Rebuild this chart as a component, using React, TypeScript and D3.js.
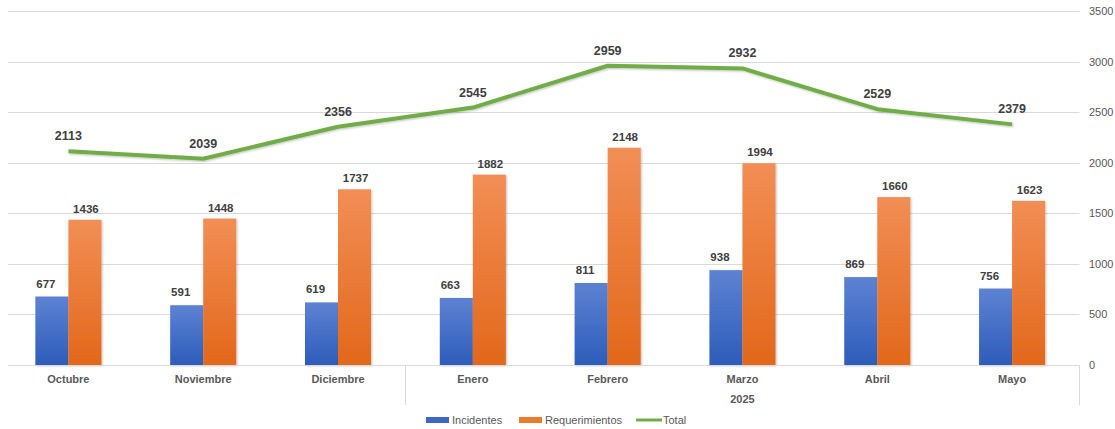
import * as d3 from "d3";
import React, { useEffect, useRef } from "react";

const months = ["Octubre", "Noviembre", "Diciembre", "Enero", "Febrero", "Marzo", "Abril", "Mayo"];
const incidentes = [677, 591, 619, 663, 811, 938, 869, 756];
const requerimientos = [1436, 1448, 1737, 1882, 2148, 1994, 1660, 1623];
const total = [2113, 2039, 2356, 2545, 2959, 2932, 2529, 2379];
const yTicks = [0, 500, 1000, 1500, 2000, 2500, 3000, 3500];
const yearLabel = "2025";
const yearStart = 3; // index of "Enero"

const W = 1115;
const H = 429;

const App = () => {
  const ref = useRef<SVGSVGElement>(null);

  useEffect(() => {
    document.body.style.margin = "0";
    const svg = d3.select(ref.current);
    svg.selectAll("*").remove();

    const left = 1;
    const right = 1079.5;
    const top = 11;
    const bottom = 365;
    const font = "'Liberation Sans', Arial, sans-serif";

    const x = d3
      .scaleBand()
      .domain(months)
      .range([left, right])
      .paddingInner(0.51)
      .paddingOuter(0.255);
    const step = x.step();
    const xs = d3
      .scaleBand()
      .domain(["inc", "req"])
      .range([0, x.bandwidth()]);
    const y = d3.scaleLinear().domain([0, 3500]).range([bottom, top]);

    const defs = svg.append("defs");
    const grad = (id, c1, c2) => {
      const g = defs
        .append("linearGradient")
        .attr("id", id)
        .attr("x1", 0)
        .attr("y1", 0)
        .attr("x2", 0)
        .attr("y2", 1);
      g.append("stop").attr("offset", "0%").attr("stop-color", c1);
      g.append("stop").attr("offset", "100%").attr("stop-color", c2);
    };
    grad("gBlue", "#5d82d2", "#2d5cba");
    grad("gOrange", "#f28e55", "#e2681b");
    const f = defs
      .append("filter")
      .attr("id", "shadow")
      .attr("x", "-20%")
      .attr("y", "-20%")
      .attr("width", "140%")
      .attr("height", "140%");
    f.append("feDropShadow")
      .attr("dx", 1)
      .attr("dy", 1)
      .attr("stdDeviation", 1)
      .attr("flood-color", "#000")
      .attr("flood-opacity", 0.25);

    // gridlines
    svg
      .append("g")
      .selectAll("line")
      .data(yTicks.filter((d) => d > 0))
      .join("line")
      .attr("x1", 8)
      .attr("x2", right)
      .attr("y1", (d) => Math.round(y(d)) + 0.5)
      .attr("y2", (d) => Math.round(y(d)) + 0.5)
      .attr("stroke", "#d9d9d9")
      .attr("stroke-width", 1);

    // right axis labels
    svg
      .append("g")
      .selectAll("text")
      .data(yTicks)
      .join("text")
      .attr("x", 1089)
      .attr("y", (d) => y(d) + 4)
      .attr("font-family", font)
      .attr("font-size", 11)
      .attr("fill", "#595959")
      .text((d) => d);

    // bars
    const groups = svg
      .append("g")
      .selectAll("g")
      .data(months.map((m, i) => ({ m, inc: incidentes[i], req: requerimientos[i] })))
      .join("g")
      .attr("transform", (d) => `translate(${x(d.m)},0)`);

    groups
      .append("rect")
      .attr("x", xs("inc"))
      .attr("width", xs.bandwidth())
      .attr("y", (d) => y(d.inc))
      .attr("height", (d) => bottom - y(d.inc))
      .attr("fill", "url(#gBlue)")
      .attr("filter", "url(#shadow)");
    groups
      .append("rect")
      .attr("x", xs("req"))
      .attr("width", xs.bandwidth())
      .attr("y", (d) => y(d.req))
      .attr("height", (d) => bottom - y(d.req))
      .attr("fill", "url(#gOrange)")
      .attr("filter", "url(#shadow)");

    groups
      .append("text")
      .attr("x", xs("inc") + xs.bandwidth() / 2 - 6)
      .attr("y", (d) => y(d.inc) - 9)
      .attr("text-anchor", "middle")
      .attr("font-family", font)
      .attr("font-size", 11.5)
      .attr("font-weight", "bold")
      .attr("fill", "#404040")
      .text((d) => d.inc);
    groups
      .append("text")
      .attr("x", xs("req") + xs.bandwidth() / 2 + 1)
      .attr("y", (d) => y(d.req) - 7)
      .attr("text-anchor", "middle")
      .attr("font-family", font)
      .attr("font-size", 11.5)
      .attr("font-weight", "bold")
      .attr("fill", "#404040")
      .text((d) => d.req);

    // axis line
    svg
      .append("line")
      .attr("x1", 8)
      .attr("x2", right)
      .attr("y1", bottom + 0.5)
      .attr("y2", bottom + 0.5)
      .attr("stroke", "#d9d9d9");
    const sepX = Math.round(left + step * yearStart) + 0.5;
    [sepX, Math.round(right) - 0.5].forEach((sx) => {
      svg
        .append("line")
        .attr("x1", sx)
        .attr("x2", sx)
        .attr("y1", bottom)
        .attr("y2", 405)
        .attr("stroke", "#d9d9d9");
    });

    svg
      .append("g")
      .selectAll("text")
      .data(months)
      .join("text")
      .attr("x", (d) => x(d) + x.bandwidth() / 2)
      .attr("y", 383)
      .attr("text-anchor", "middle")
      .attr("font-family", font)
      .attr("font-size", 11)
      .attr("font-weight", "bold")
      .attr("fill", "#595959")
      .text((d) => d);

    svg
      .append("text")
      .attr("x", (sepX + right) / 2)
      .attr("y", 403)
      .attr("text-anchor", "middle")
      .attr("font-family", font)
      .attr("font-size", 11)
      .attr("font-weight", "bold")
      .attr("fill", "#595959")
      .text(yearLabel);

    // total line
    const cx = (i) => x(months[i]) + x.bandwidth() / 2;
    const line = d3
      .line<number>()
      .x((_, i) => cx(i))
      .y((d) => y(d));
    svg
      .append("path")
      .datum(total)
      .attr("d", line)
      .attr("fill", "none")
      .attr("stroke", "#70ad47")
      .attr("stroke-width", 4)
      .attr("stroke-linejoin", "round")
      .attr("filter", "url(#shadow)");

    svg
      .append("g")
      .selectAll("text")
      .data(total)
      .join("text")
      .attr("x", (_, i) => cx(i))
      .attr("y", (d) => y(d) - 11)
      .attr("text-anchor", "middle")
      .attr("font-family", font)
      .attr("font-size", 12.5)
      .attr("font-weight", "bold")
      .attr("fill", "#404040")
      .text((d) => d);

    // legend
    const legend = [
      { name: "Incidentes", x: 426, type: "bar", color: "#3a68c4" },
      { name: "Requerimientos", x: 519, type: "bar", color: "#eb7a2c" },
      { name: "Total", x: 636, type: "line", color: "#70ad47" },
    ];
    const lg = svg
      .append("g")
      .selectAll("g")
      .data(legend)
      .join("g")
      .attr("transform", (d) => `translate(${d.x},420)`);
    lg.append("rect")
      .attr("x", 0)
      .attr("y", (d) => (d.type === "bar" ? -3 : -1.5))
      .attr("width", (d) => (d.type === "bar" ? 23 : 26))
      .attr("height", (d) => (d.type === "bar" ? 6 : 3))
      .attr("fill", (d) => d.color);
    lg.append("text")
      .attr("x", (d) => (d.type === "bar" ? 26 : 27))
      .attr("y", 4)
      .attr("font-family", font)
      .attr("font-size", 11)
      .attr("fill", "#595959")
      .text((d) => d.name);
  }, []);

  return <svg ref={ref} width={W} height={H} style={{ display: "block", background: "#fff" }} />;
};

export default App;
